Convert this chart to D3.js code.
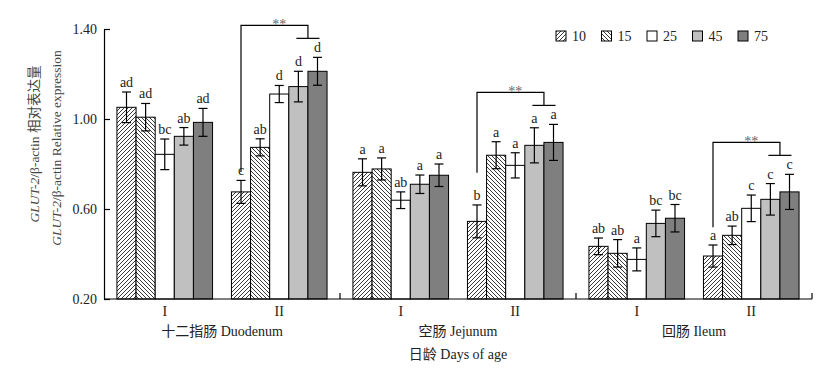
<!DOCTYPE html>
<html><head><meta charset="utf-8">
<script src="https://cdn.jsdelivr.net/npm/d3@7"></script>
<style>
html,body{margin:0;padding:0;background:#fff;}
text{font-family:"Liberation Serif","Times New Roman","Noto Sans CJK SC",serif;}
</style></head>
<body>
<svg id="chart" width="836" height="383"></svg>
<script>
const sections = ["十二指肠 Duodenum", "空肠 Jejunum", "回肠 Ileum"];
const phases = ["I", "II"];
const ages = ["10", "15", "25", "45", "75"];
const yTicks = [0.20, 0.60, 1.00, 1.40];

const duodenumMean = [[1.052, 1.008, 0.843, 0.923, 0.985], [0.676, 0.874, 1.111, 1.144, 1.212]];
const duodenumErr  = [[0.068, 0.061, 0.068, 0.039, 0.062], [0.051, 0.038, 0.038, 0.068, 0.062]];
const duodenumSig  = [["ad", "ad", "bc", "ab", "ad"], ["c", "ab", "d", "d", "d"]];

const jejunumMean = [[0.763, 0.778, 0.639, 0.710, 0.750], [0.545, 0.839, 0.794, 0.883, 0.896]];
const jejunumErr  = [[0.060, 0.049, 0.037, 0.041, 0.050], [0.073, 0.060, 0.056, 0.078, 0.080]];
const jejunumSig  = [["a", "a", "ab", "a", "a"], ["b", "a", "a", "a", "a"]];

const ileumMean = [[0.434, 0.403, 0.376, 0.536, 0.559], [0.391, 0.483, 0.603, 0.643, 0.676]];
const ileumErr  = [[0.037, 0.061, 0.051, 0.059, 0.061], [0.049, 0.041, 0.059, 0.070, 0.078]];
const ileumSig  = [["ab", "ab", "a", "bc", "bc"], ["a", "ab", "c", "c", "c"]];

// bracket (**) base level in data units, one per section (phase II)
const bracketBase = [0.764, 0.761, 0.519];
const bracketLabel = "**";

const meansBySection = [duodenumMean, jejunumMean, ileumMean];
const errBySection = [duodenumErr, jejunumErr, ileumErr];
const sigBySection = [duodenumSig, jejunumSig, ileumSig];

const rows = [];
sections.forEach((s, si) => phases.forEach((p, pi) => ages.forEach((a, ai) => {
  rows.push({section: s, phase: p, age: a, v: meansBySection[si][pi][ai], e: errBySection[si][pi][ai], sig: sigBySection[si][pi][ai]});
})));

const svg = d3.select("#chart");
const defs = svg.append("defs");
function hatch(id, d) {
  const p = defs.append("pattern").attr("id", id).attr("patternUnits", "userSpaceOnUse")
    .attr("width", 4).attr("height", 4);
  p.append("rect").attr("width", 4).attr("height", 4).attr("fill", "#fff");
  p.append("path").attr("d", d).attr("stroke", "#222").attr("stroke-width", 0.9).attr("fill", "none");
}
hatch("h10", "M-1,1 l2,-2 M0,4 l4,-4 M3,5 l2,-2");
hatch("h15", "M-1,3 l2,2 M0,0 l4,4 M3,-1 l2,2");
const fills = {"10": "url(#h10)", "15": "url(#h15)", "25": "#ffffff", "45": "#c0c0c0", "75": "#7f7f7f"};

const x0 = d3.scaleBand().domain(sections).range([104, 812]).padding(0);
const x1 = d3.scaleBand().domain(phases).range([0, x0.bandwidth()]).paddingInner(0.165).paddingOuter(0.113);
const x2 = d3.scaleBand().domain(ages).range([0, x1.bandwidth()]);
const y = d3.scaleLinear().domain([0.2, 1.4]).range([299, 29]);
const bx = d => x0(d.section) + x1(d.phase) + x2(d.age);
const cx = d => bx(d) + x2.bandwidth() / 2;

// bars
svg.append("g").selectAll("rect").data(rows).join("rect")
  .attr("x", bx).attr("width", x2.bandwidth())
  .attr("y", d => y(d.v)).attr("height", d => y(0.2) - y(d.v))
  .attr("fill", d => fills[d.age]).attr("stroke", "#000").attr("stroke-width", 1);

// error bars
const eg = svg.append("g").attr("stroke", "#000").attr("stroke-width", 1.2);
rows.forEach(d => {
  const c = cx(d);
  eg.append("line").attr("x1", c).attr("x2", c).attr("y1", y(d.v + d.e)).attr("y2", y(d.v - d.e));
  eg.append("line").attr("x1", c - 4.5).attr("x2", c + 4.5).attr("y1", y(d.v + d.e)).attr("y2", y(d.v + d.e));
  eg.append("line").attr("x1", c - 4.5).attr("x2", c + 4.5).attr("y1", y(d.v - d.e)).attr("y2", y(d.v - d.e));
});

// significance letters
svg.append("g").selectAll("text").data(rows).join("text")
  .attr("x", cx).attr("y", d => y(d.v + d.e) - 5)
  .attr("text-anchor", "middle").attr("font-size", 14).attr("fill", "#222")
  .text(d => d.sig);

// brackets
const bg = svg.append("g").attr("stroke", "#000").attr("stroke-width", 1.2).attr("fill", "none");
sections.forEach((s, si) => {
  const grp = rows.filter(d => d.section === s && d.phase === "II");
  const maxTop = d3.max(grp, d => d.v + d.e);
  const topY = y(maxTop) - 32, barY = y(maxTop) - 19;
  const xa = cx(grp[0]), x4 = cx(grp[3]), x5 = cx(grp[4]);
  const xm = (x4 + x5) / 2;
  bg.append("path").attr("d", `M${xa},${y(bracketBase[si])}V${topY}H${xm}V${barY}`);
  bg.append("line").attr("x1", x4 - 2).attr("x2", x5 + 2).attr("y1", barY).attr("y2", barY);
  svg.append("text").attr("x", cx(grp[2])).attr("y", topY + 4).attr("text-anchor", "middle")
    .attr("font-size", 14).attr("fill", "#666").text(bracketLabel);
});

// y axis
const ya = svg.append("g").attr("transform", "translate(104,0)")
  .call(d3.axisLeft(y).tickValues(yTicks).tickFormat(d3.format(".2f")).tickSizeInner(-6).tickSizeOuter(0).tickPadding(7));
ya.selectAll("text").attr("font-size", 14).attr("fill", "#222").style("font-family", '"Liberation Serif", serif');
ya.selectAll("line,path").attr("stroke", "#000").attr("stroke-width", 1.2);

// x axis
const xg = svg.append("g").attr("stroke", "#000").attr("stroke-width", 1.2);
xg.append("line").attr("x1", 104).attr("x2", 812).attr("y1", 299).attr("y2", 299);
sections.forEach(s => {
  const xe = x0(s) + x0.bandwidth();
  xg.append("line").attr("x1", xe).attr("x2", xe).attr("y1", 299).attr("y2", 293);
});

// phase labels
const lab = svg.append("g").attr("font-size", 14).attr("fill", "#222").attr("text-anchor", "middle");
sections.forEach(s => phases.forEach(p => {
  lab.append("text").attr("x", x0(s) + x1(p) + x1.bandwidth() / 2).attr("y", 316).text(p);
}));
sections.forEach(s => {
  lab.append("text").attr("x", x0(s) + x0.bandwidth() / 2).attr("y", 336).text(s);
});
lab.append("text").attr("x", (104 + 812) / 2).attr("y", 359).text("日龄 Days of age");

// y label
const yl = svg.append("g").attr("font-size", 13.5).attr("fill", "#444").attr("text-anchor", "middle");
const l1 = yl.append("text").attr("transform", "translate(39,144) rotate(-90)");
l1.append("tspan").attr("font-style", "italic").text("GLUT-2");
l1.append("tspan").text("/β-actin 相对表达量");
const l2 = yl.append("text").attr("transform", "translate(61,148) rotate(-90)");
l2.append("tspan").attr("font-style", "italic").text("GLUT-2");
l2.append("tspan").text("/β-actin Relative expression");

// legend
const lg = svg.append("g");
ages.forEach((a, i) => {
  const lx = 556 + i * 45.5;
  lg.append("rect").attr("x", lx).attr("y", 31).attr("width", 10).attr("height", 10)
    .attr("fill", fills[a]).attr("stroke", "#000").attr("stroke-width", 1);
  lg.append("text").attr("x", lx + 16).attr("y", 41).attr("font-size", 14).attr("fill", "#222").text(a);
});
</script>
</body></html>
